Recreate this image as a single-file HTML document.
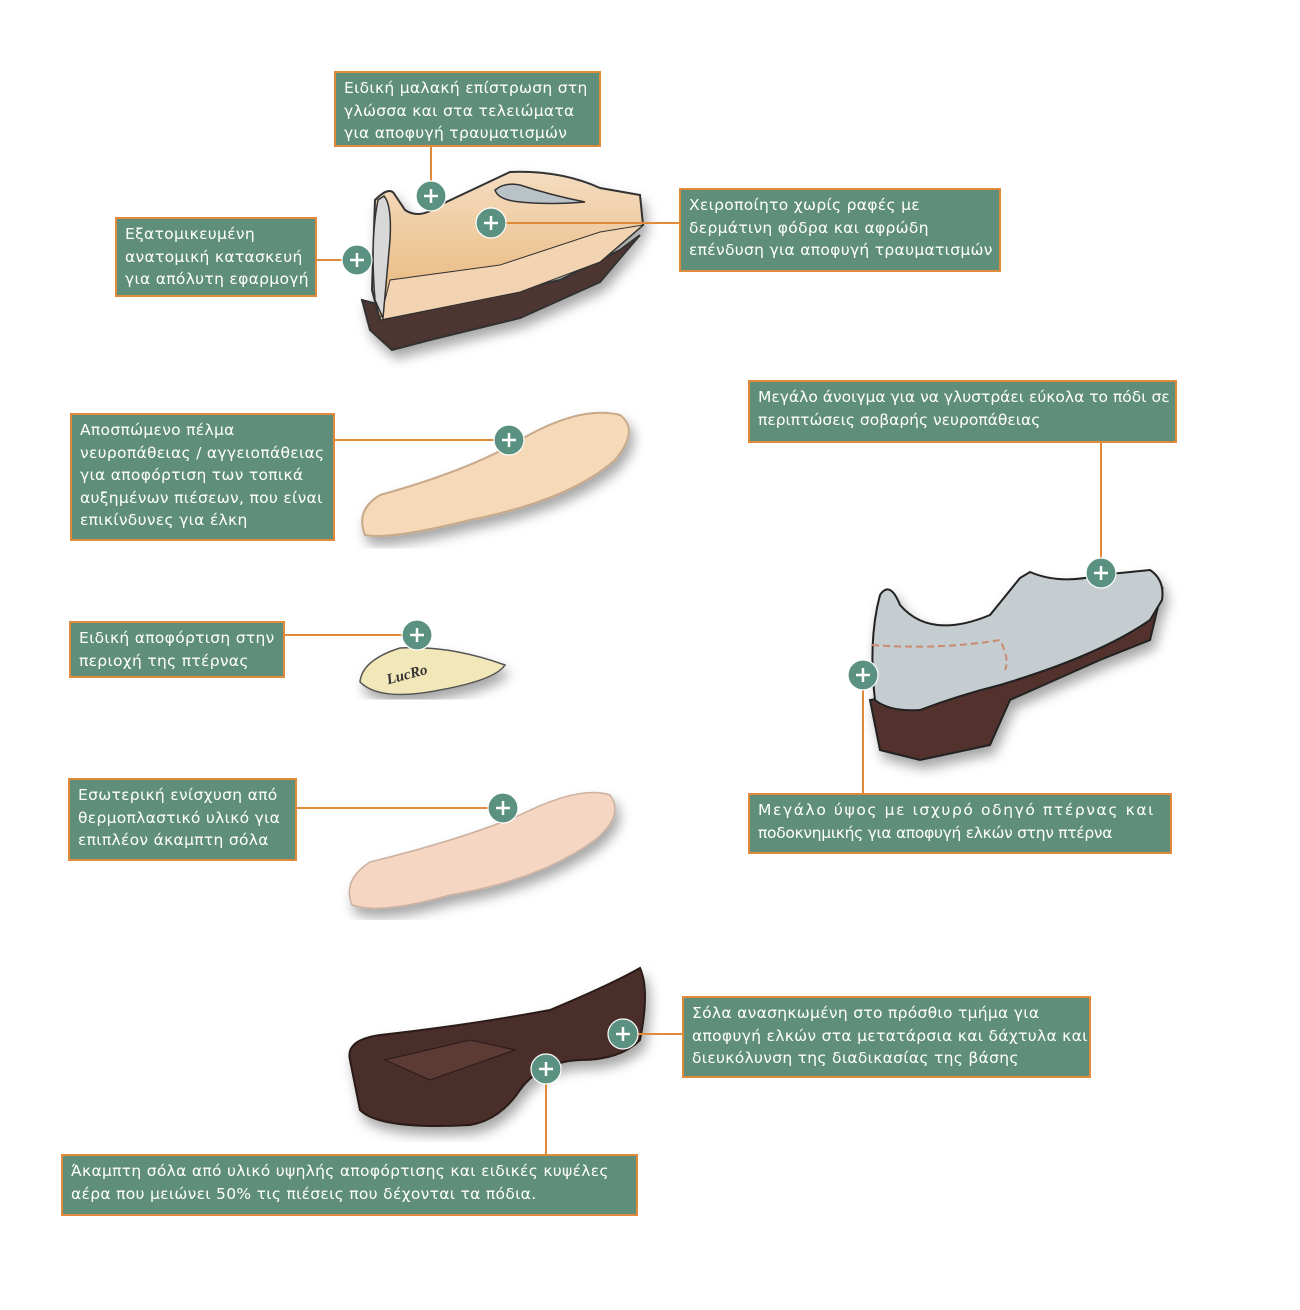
<!DOCTYPE html>
<html><head><meta charset="utf-8"><style>
body{margin:0;width:1300px;height:1310px;background:#fff;position:relative;overflow:hidden;font-family:"DejaVu Sans","Liberation Sans",sans-serif}
.b{position:absolute;background:#5f8e7a;border:2px solid #e08a3a;color:#fff;font-size:15.5px;line-height:22.5px;padding:4px 8px;box-sizing:border-box;white-space:nowrap;letter-spacing:0.3px}
svg{position:absolute;left:0;top:0}
</style></head><body>
<svg width="1300" height="1310" viewBox="0 0 1300 1310">
<defs>
<linearGradient id="tan" x1="0" y1="0" x2="0" y2="1"><stop offset="0" stop-color="#f4dcc0"/><stop offset="1" stop-color="#e8b474"/></linearGradient>
<filter id="sh"><feDropShadow dx="4" dy="8" stdDeviation="6" flood-opacity="0.35"/></filter>
</defs>
<g filter="url(#sh)" stroke="#333" stroke-width="2">
<path d="M362,300 L370,330 L392,350 L430,340 L520,318 L600,282 L640,235 L620,250 L560,280 L470,300 L400,310 Z" fill="#4e3430"/>
<path d="M375,200 Q390,185 395,195 L405,210 Q420,220 440,205 L510,172 Q560,170 600,188 L640,195 L643,225 L600,262 L520,290 L420,312 L380,320 L372,290 Z" fill="url(#tan)"/>
<path d="M380,320 L390,280 L500,265 L600,232 L643,225 L600,262 L520,292 L420,312 Z" fill="#f2d4b2" stroke-width="1"/>
<path d="M378,200 Q370,240 375,300 L383,318 L390,240 Q392,205 384,196 Z" fill="#d8d8d8" stroke-width="1.5"/>
<path d="M495,190 Q505,182 520,185 Q550,195 585,202 Q550,205 520,202 Q498,200 495,190Z" fill="#b9c2c6" stroke-width="1.5"/>
</g>
<path d="M365,535 Q355,510 380,495 Q470,470 520,440 Q580,405 620,415 Q640,430 615,460 Q570,500 470,520 Q390,540 365,535Z" fill="#f5d9b8" stroke="#c8a98a" stroke-width="2" filter="url(#sh)"/>
<path d="M360,682 Q362,660 400,648 Q450,645 505,665 Q495,680 440,690 Q380,702 360,682Z" fill="#f2e7b8" stroke="#555" stroke-width="1.5" filter="url(#sh)"/>
<text x="386" y="681" font-family="Liberation Serif,serif" font-style="italic" font-weight="bold" font-size="15" fill="#333" transform="rotate(-15 400 675)">LucRo</text>
<path d="M352,905 Q342,880 370,862 Q460,840 520,815 Q580,785 610,795 Q625,815 595,840 Q540,880 450,895 Q380,915 352,905Z" fill="#f4d6c2" stroke="#ccb0a0" stroke-width="1.5" filter="url(#sh)"/>
<g filter="url(#sh)">
<path d="M350,1060 Q345,1040 380,1035 Q470,1025 550,1010 Q610,985 640,968 Q650,990 640,1040 Q620,1060 580,1060 Q540,1062 520,1090 Q500,1120 470,1125 Q380,1130 360,1110 Z" fill="#4a2e2b" stroke="#2a1a18" stroke-width="2"/>
<path d="M385,1060 L470,1040 L515,1050 L430,1080Z" fill="#5b3a36" stroke="#2a1a18" stroke-width="1"/>
</g>
<g filter="url(#sh)" stroke="#222" stroke-width="2">
<path d="M870,700 L880,750 L920,760 L990,745 L1010,700 L1100,660 L1150,640 L1162,590 L1120,630 L1000,680 Z" fill="#52332f"/>
<path d="M875,700 Q868,640 880,595 Q890,580 900,605 Q930,640 990,615 L1020,578 L1030,572 Q1060,585 1100,575 L1150,570 Q1165,580 1162,600 L1150,620 Q1100,655 1000,685 Q960,695 920,710 Q890,712 875,700Z" fill="#c5cdd1"/>
</g>
<path d="M872,645 Q940,650 1000,640 Q1010,660 1005,670" fill="none" stroke="#c98a70" stroke-width="2" stroke-dasharray="7,4"/>
<g stroke="#e08a3a" stroke-width="2" fill="none">
<path d="M431,146V181M316,260H342M679,223H506M334,440H494M284,635H402M296,808H488M1101,442V558M863,690V793M638,1034H682M546,1084V1154"/>
</g>
<g fill="#5a9181" stroke="#fff" stroke-width="1.2">
<circle cx="431" cy="196" r="15"/><circle cx="491" cy="223" r="15"/><circle cx="357" cy="260" r="15"/><circle cx="509" cy="440" r="15"/><circle cx="417" cy="635" r="15"/><circle cx="503" cy="808" r="15"/><circle cx="1101" cy="573" r="15"/><circle cx="863" cy="675" r="15"/><circle cx="623" cy="1034" r="15"/><circle cx="546" cy="1069" r="15"/>
</g>
<g stroke="#fff" stroke-width="2.5">
<path d="M424,196h14M431,189v14M484,223h14M491,216v14M350,260h14M357,253v14M502,440h14M509,433v14M410,635h14M417,628v14M496,808h14M503,801v14M1094,573h14M1101,566v14M856,675h14M863,668v14M616,1034h14M623,1027v14M539,1069h14M546,1062v14"/>
</g>
</svg>
<div class="b" style="left:334px;top:71px;width:267px;height:76px">Ειδική μαλακή επίστρωση στη<br>γλώσσα και στα τελειώματα<br>για αποφυγή τραυματισμών</div>
<div class="b" style="left:115px;top:217px;width:202px;height:80px">Εξατομικευμένη<br>ανατομική  κατασκευή<br>για απόλυτη εφαρμογή</div>
<div class="b" style="left:679px;top:188px;width:322px;height:84px">Χειροποίητο χωρίς ραφές με<br>δερμάτινη φόδρα και αφρώδη<br>επένδυση για αποφυγή τραυματισμών</div>
<div class="b" style="left:70px;top:413px;width:265px;height:128px">Αποσπώμενο πέλμα<br>νευροπάθειας / αγγειοπάθειας<br>για αποφόρτιση των τοπικά<br>αυξημένων πιέσεων, που είναι<br>επικίνδυνες για έλκη</div>
<div class="b" style="left:69px;top:621px;width:216px;height:57px">Ειδική αποφόρτιση στην<br>περιοχή της πτέρνας</div>
<div class="b" style="left:68px;top:778px;width:229px;height:83px">Εσωτερική ενίσχυση  από<br>θερμοπλαστικό υλικό για<br>επιπλέον άκαμπτη σόλα</div>
<div class="b" style="left:748px;top:380px;width:429px;height:63px;letter-spacing:0px">Μεγάλο άνοιγμα για να γλυστράει εύκολα το πόδι σε<br>περιπτώσεις σοβαρής νευροπάθειας</div>
<div class="b" style="left:748px;top:793px;width:424px;height:61px"><span style="letter-spacing:1.6px">Μεγάλο ύψος με ισχυρό οδηγό πτέρνας και</span><br><span style="letter-spacing:-0.3px">ποδοκνημικής για αποφυγή ελκών στην πτέρνα</span></div>
<div class="b" style="left:682px;top:996px;width:409px;height:82px">Σόλα ανασηκωμένη στο πρόσθιο τμήμα για<br>αποφυγή ελκών στα μετατάρσια και δάχτυλα και<br>διευκόλυνση της διαδικασίας της βάσης</div>
<div class="b" style="left:61px;top:1154px;width:577px;height:62px">Άκαμπτη σόλα από υλικό υψηλής αποφόρτισης και ειδικές κυψέλες<br>αέρα που μειώνει 50% τις πιέσεις που δέχονται τα πόδια.</div>
</body></html>
